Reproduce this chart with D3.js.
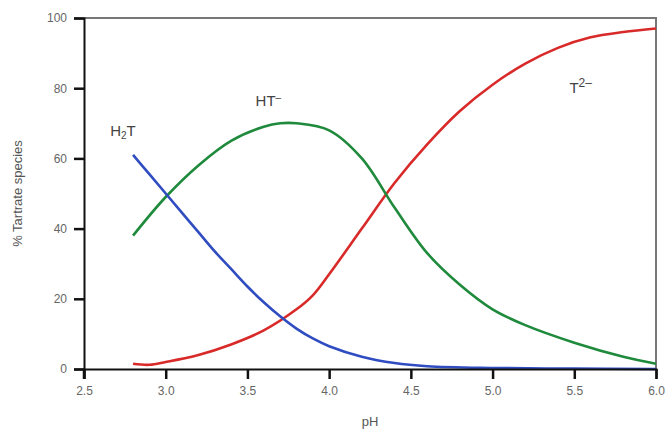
<!DOCTYPE html>
<html>
<head>
<meta charset="utf-8">
<script src="https://cdn.jsdelivr.net/npm/d3@7"></script>
<style>
  body { margin: 0; background: #fff; }
  text { font-family: "Liberation Sans", Arial, sans-serif; }
  .axis-label { font-size: 13px; fill: #555; }
  .species { font-size: 15px; fill: #444; }
</style>
</head>
<body>
<div id="chart"></div>
<script>
// values (% of tartrate species vs pH)
let phH2T = [2.8, 2.9, 3.0, 3.1, 3.2, 3.3, 3.4, 3.5, 3.6, 3.7, 3.8, 3.9, 4.0, 4.2, 4.4, 4.6, 5.0, 5.5, 6.0];
let valH2T = [61, 55.5, 50, 44.5, 39, 33.5, 28.5, 23.5, 19, 15, 11.5, 8.7, 6.5, 3.5, 1.7, 0.8, 0.3, 0.1, 0];

let phHT = [2.8, 3.0, 3.2, 3.4, 3.6, 3.7, 3.8, 4.0, 4.2, 4.4, 4.6, 4.8, 5.0, 5.2, 5.5, 5.8, 6.0];
let valHT = [38, 49, 58, 65, 69, 70, 70, 68, 60, 46, 33, 24, 17, 12.5, 7.5, 3.5, 1.5];

let phT = [2.8, 2.9, 3.0, 3.2, 3.4, 3.6, 3.8, 3.9, 4.0, 4.2, 4.4, 4.6, 4.8, 5.0, 5.2, 5.4, 5.6, 5.8, 6.0];
let valT = [1.5, 1.2, 2, 4, 7, 11, 17, 21, 27, 40, 53, 64, 73.5, 81, 87, 91.5, 94.5, 96, 97];

let xTicks = [2.5, 3.0, 3.5, 4.0, 4.5, 5.0, 5.5, 6.0];
let yTicks = [0, 20, 40, 60, 80, 100];

let margin = {top: 18, right: 11, bottom: 63, left: 84};
let width = 667 - margin.left - margin.right;
let height = 432 - margin.top - margin.bottom;

let svg = d3.select("#chart")
            .append("svg")
            .attr("width", 667)
            .attr("height", 432)
            .append("g")
            .attr("transform", "translate(" + margin.left + "," + margin.top + ")");

let x = d3.scaleLinear().domain([2.5, 6.0]).range([0, width]);
let y = d3.scaleLinear().domain([0, 100]).range([height, 0]);

// frame top and right
svg.append("path")
   .attr("d", "M0," + y(100) + "H" + x(6.0) + "V" + y(0))
   .attr("fill", "none")
   .attr("stroke", "#777")
   .attr("stroke-width", 2);

// curves
let line = d3.line()
             .x(d => x(d[0]))
             .y(d => y(d[1]))
             .curve(d3.curveCatmullRom.alpha(0.5));

let series = [
  {ph: phT, val: valT, color: "#d92a2a"},
  {ph: phHT, val: valHT, color: "#1f8a3c"},
  {ph: phH2T, val: valH2T, color: "#2f4cc0"}
];
series.forEach(s => {
  svg.append("path")
     .datum(s.ph.map((p, i) => [p, s.val[i]]))
     .attr("fill", "none")
     .attr("stroke", s.color)
     .attr("stroke-width", 2.6)
     .attr("d", line);
});

// axes
let yAxis = svg.append("g")
   .call(d3.axisLeft(y).tickValues(yTicks).tickSize(10).tickPadding(7).tickFormat(d3.format("d")));
let xAxis = svg.append("g")
   .attr("transform", "translate(0," + height + ")")
   .call(d3.axisBottom(x).tickValues(xTicks).tickSize(10).tickPadding(7).tickFormat(d3.format(".1f")));

[xAxis, yAxis].forEach(a => {
  a.select(".domain").attr("stroke", "#111").attr("stroke-width", 2);
  a.selectAll(".tick line").attr("stroke", "#111").attr("stroke-width", 2.5);
  a.selectAll(".tick text")
   .style("font-size", "12px")
   .style("font-family", "'Liberation Sans', Arial, sans-serif")
   .attr("fill", "#666");
});
// left axis reaches slightly below the x axis
svg.append("line")
   .attr("x1", 0).attr("x2", 0)
   .attr("y1", height).attr("y2", height + 10)
   .attr("stroke", "#111").attr("stroke-width", 2.5);

// axis titles
svg.append("text")
   .attr("class", "axis-label")
   .attr("x", width / 2)
   .attr("y", height + 57)
   .style("text-anchor", "middle")
   .text("pH");

svg.append("text")
   .attr("class", "axis-label")
   .attr("transform", "translate(-62," + (height / 2) + ") rotate(-90)")
   .style("text-anchor", "middle")
   .text("% Tartrate species");

// species labels
let lab1 = svg.append("text").attr("class", "species").attr("x", x(2.66)).attr("y", y(66.5));
lab1.append("tspan").text("H");
lab1.append("tspan").attr("font-size", "10px").attr("dy", 3).text("2");
lab1.append("tspan").attr("dy", -3).text("T");

let lab2 = svg.append("text").attr("class", "species").attr("x", x(3.55)).attr("y", y(75));
lab2.append("tspan").text("HT");
lab2.append("tspan").attr("font-size", "10px").attr("dy", -5).text("\u2013");

let lab3 = svg.append("text").attr("class", "species").attr("x", x(5.47)).attr("y", y(78.5));
lab3.append("tspan").text("T");
lab3.append("tspan").attr("font-size", "12px").attr("dy", -6).text("2\u2013");
</script>
</body>
</html>
